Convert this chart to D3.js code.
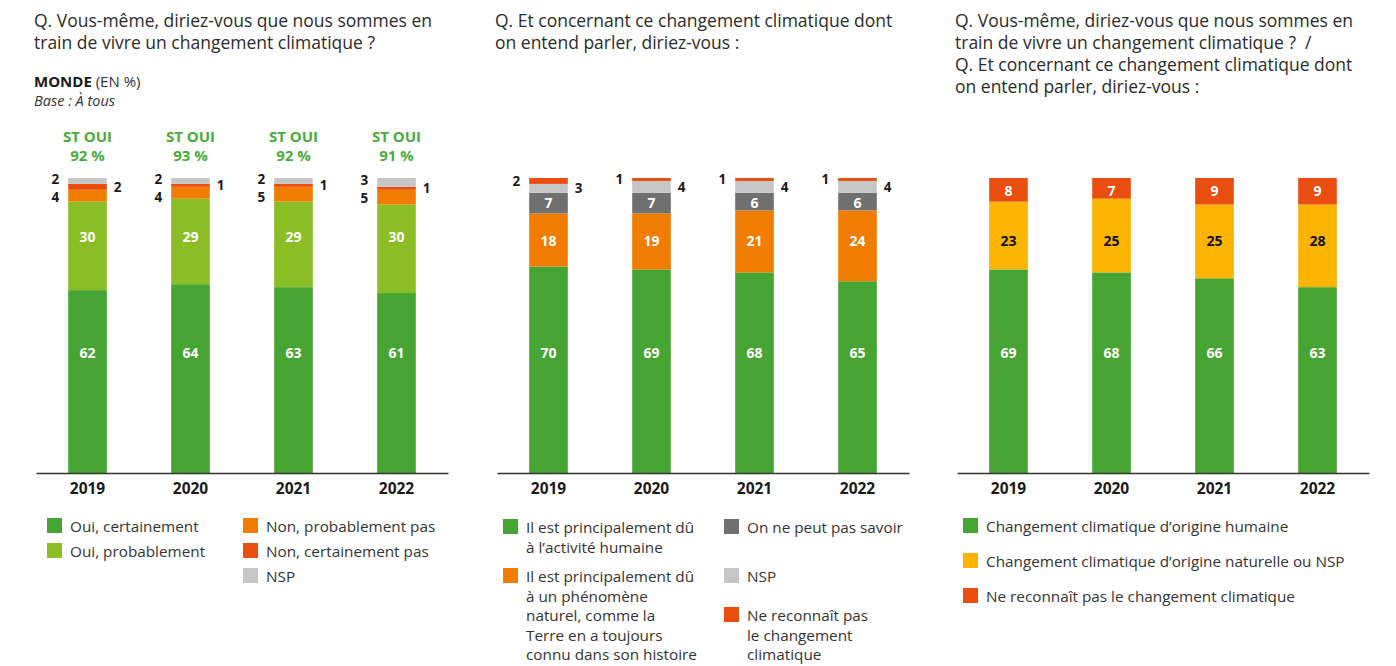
<!DOCTYPE html>
<html>
<head>
<meta charset="utf-8">
<script src="https://cdn.jsdelivr.net/npm/d3@7"></script>
<style>
  body { margin: 0; background: #fff; }
  svg { font-family: "Open Sans", sans-serif; }
</style>
</head>
<body>
<script>
// data
const years = ["2019", "2020", "2021", "2022"];

// panel 1 : vivre un changement climatique ?
const ouiCertainement = [62, 64, 63, 61];
const ouiProbablement = [30, 29, 29, 30];
const nonProbablement = [4, 4, 5, 5];
const nonCertainement = [2, 1, 1, 1];
const nspVivre = [2, 2, 2, 3];
const stOui = [92, 93, 92, 91];

// panel 2 : origine du changement
const activiteHumaine = [70, 69, 68, 65];
const phenomeneNaturel = [18, 19, 21, 24];
const peutPasSavoir = [7, 7, 6, 6];
const nspOrigine = [3, 4, 4, 4];
const neReconnaitPas = [2, 1, 1, 1];

// panel 3 : combinaison
const origineHumaine = [69, 68, 66, 63];
const origineNaturelleNsp = [23, 25, 25, 28];
const neReconnaitPasCombi = [8, 7, 9, 9];

const C = {
  green: "#46a532",
  light: "#8bbd25",
  orange: "#f07c00",
  red: "#e94e0f",
  grey: "#c6c6c6",
  dark: "#707070",
  yellow: "#fcb400"
};

const svgWidth = 1396, svgHeight = 666;
const plotTop = 178, plotBottom = 473, axisWidth = 412;

const svg = d3.select("body").append("svg")
  .attr("width", svgWidth)
  .attr("height", svgHeight);

const y = d3.scaleLinear().domain([0, 100]).range([plotBottom, plotTop]);

// series listed bottom -> top ; label: in (fixed level in %), left, right
const panels = [
  {
    x0: 36,
    title: ["Q. Vous-même, diriez-vous que nous sommes en", "train de vivre un changement climatique ?"],
    series: [
      { values: ouiCertainement, color: C.green, label: "in", at: 40.5, fill: "#fff" },
      { values: ouiProbablement, color: C.light, label: "in", at: 80, fill: "#fff" },
      { values: nonProbablement, color: C.orange, label: "left" },
      { values: nonCertainement, color: C.red, label: "right" },
      { values: nspVivre, color: C.grey, label: "left" }
    ],
    legend: [
      { text: ["Oui, certainement"], color: C.green, x: 47, y: 518 },
      { text: ["Oui, probablement"], color: C.light, x: 47, y: 543 },
      { text: ["Non, probablement pas"], color: C.orange, x: 243, y: 518 },
      { text: ["Non, certainement pas"], color: C.red, x: 243, y: 543 },
      { text: ["NSP"], color: C.grey, x: 243, y: 568 }
    ]
  },
  {
    x0: 497,
    title: ["Q. Et concernant ce changement climatique dont", "on entend parler, diriez-vous :"],
    series: [
      { values: activiteHumaine, color: C.green, label: "in", at: 40.5, fill: "#fff" },
      { values: phenomeneNaturel, color: C.orange, label: "in", at: 78.5, fill: "#fff" },
      { values: peutPasSavoir, color: C.dark, label: "in", at: 91.5, fill: "#fff" },
      { values: nspOrigine, color: C.grey, label: "right" },
      { values: neReconnaitPas, color: C.red, label: "left" }
    ],
    legend: [
      { text: ["Il est principalement dû", "à l’activité humaine"], color: C.green, x: 503, y: 519 },
      { text: ["Il est principalement dû", "à un phénomène", "naturel, comme la", "Terre en a toujours", "connu dans son histoire"], color: C.orange, x: 503, y: 568 },
      { text: ["On ne peut pas savoir"], color: C.dark, x: 724, y: 519 },
      { text: ["NSP"], color: C.grey, x: 724, y: 568 },
      { text: ["Ne reconnaît pas", "le changement", "climatique"], color: C.red, x: 724, y: 607 }
    ]
  },
  {
    x0: 957,
    title: ["Q. Vous-même, diriez-vous que nous sommes en", "train de vivre un changement climatique ? \u00a0/",
            "Q. Et concernant ce changement climatique dont", "on entend parler, diriez-vous :"],
    series: [
      { values: origineHumaine, color: C.green, label: "in", at: 40.5, fill: "#fff" },
      { values: origineNaturelleNsp, color: C.yellow, label: "in", at: 78.5, fill: "#111" },
      { values: neReconnaitPasCombi, color: C.red, label: "in", at: 95.5, fill: "#fff" }
    ],
    legend: [
      { text: ["Changement climatique d’origine humaine"], color: C.green, x: 963, y: 518 },
      { text: ["Changement climatique d’origine naturelle ou NSP"], color: C.yellow, x: 963, y: 553 },
      { text: ["Ne reconnaît pas le changement climatique"], color: C.red, x: 963, y: 588 }
    ]
  }
];

panels.forEach((p, pi) => {
  const g = svg.append("g");

  // title
  g.append("text")
    .attr("x", p.x0 - 2)
    .attr("y", 27)
    .attr("font-size", 17.5)
    .attr("fill", "#2b2b2b")
    .selectAll("tspan")
    .data(p.title)
    .join("tspan")
    .attr("x", p.x0 - 2)
    .attr("dy", (d, i) => i ? 22 : 0)
    .text(d => d);

  const x = d3.scaleBand()
    .domain(years)
    .range([p.x0, p.x0 + axisWidth])
    .paddingInner(0.625)
    .paddingOuter(0.3125);
  const bw = x.bandwidth();

  // stack
  const rows = years.map((yr, i) => {
    const r = { year: yr };
    p.series.forEach((s, k) => r["s" + k] = s.values[i]);
    return r;
  });
  const keys = p.series.map((s, k) => "s" + k);
  const stacked = d3.stack().keys(keys)(rows);

  stacked.forEach((layer, k) => {
    g.append("g").selectAll("rect")
      .data(layer)
      .join("rect")
      .attr("x", d => x(d.data.year))
      .attr("width", bw)
      .attr("y", d => y(d[1]))
      .attr("height", d => y(d[0]) - y(d[1]))
      .attr("fill", p.series[k].color);
  });

  // outside labels: segment middle, spread apart when two share a side
  const outside = [];
  ["left", "right"].forEach(side => {
    years.forEach((yr, i) => {
      const ks = d3.range(p.series.length).reverse().filter(k => p.series[k].label === side);
      let prev = -Infinity;
      ks.forEach((k, j) => {
        const d = stacked[k][i];
        let ly = y((d[0] + d[1]) / 2);
        if (ks.length > 1 && j === 0) ly -= 2;
        ly = Math.max(ly, prev + 18);
        prev = ly;
        outside.push({ side, year: yr, y: ly, v: p.series[k].values[i] });
      });
    });
  });

  g.append("g").selectAll("text")
    .data(outside)
    .join("text")
    .attr("x", d => d.side === "left" ? x(d.year) - 9 : x(d.year) + bw + 7)
    .attr("y", d => d.y)
    .attr("dy", "0.35em")
    .attr("text-anchor", d => d.side === "left" ? "end" : "start")
    .attr("font-size", 13.5)
    .attr("font-weight", 700)
    .attr("fill", "#1a1a1a")
    .text(d => d.v);

  // inside labels
  stacked.forEach((layer, k) => {
    const s = p.series[k];
    if (s.label !== "in") return;
    g.append("g").selectAll("text")
      .data(layer)
      .join("text")
      .attr("x", d => x(d.data.year) + bw / 2)
      .attr("y", y(s.at))
      .attr("dy", "0.35em")
      .attr("text-anchor", "middle")
      .attr("font-size", 14)
      .attr("font-weight", 700)
      .attr("fill", s.fill)
      .text((d, i) => s.values[i]);
  });

  // axis
  const axis = g.append("g")
    .attr("transform", `translate(0,${plotBottom})`)
    .call(d3.axisBottom(x).tickSize(0).tickSizeOuter(0).tickPadding(10));
  axis.select(".domain").attr("stroke", "#333").attr("stroke-width", 1.5);
  axis.selectAll("text")
    .attr("font-family", "Open Sans, sans-serif")
    .attr("font-size", 15.5)
    .attr("font-weight", 700)
    .attr("fill", "#1a1a1a");

  // legend
  const leg = g.append("g").selectAll("g")
    .data(p.legend)
    .join("g")
    .attr("transform", d => `translate(${d.x},${d.y})`);
  leg.append("rect")
    .attr("width", 15)
    .attr("height", 15)
    .attr("fill", d => d.color);
  leg.append("text")
    .attr("font-size", 15.3)
    .attr("fill", "#333")
    .selectAll("tspan")
    .data(d => d.text)
    .join("tspan")
    .attr("x", 23)
    .attr("y", (d, i) => 14 + i * 19.5)
    .text(d => d);

  if (pi === 0) {
    // header under title
    const h = g.append("text").attr("x", p.x0 - 2).attr("y", 87).attr("font-size", 15).attr("fill", "#333");
    h.append("tspan").attr("font-weight", 700).attr("fill", "#1a1a1a").text("MONDE");
    h.append("tspan").text(" (EN %)");
    g.append("text").attr("x", p.x0 - 2).attr("y", 106).attr("font-size", 14.5)
      .attr("font-style", "italic").attr("fill", "#333").text("Base : À tous");

    // ST OUI
    const st = g.append("g").selectAll("text")
      .data(years)
      .join("text")
      .attr("text-anchor", "middle")
      .attr("font-size", 15)
      .attr("font-weight", 700)
      .attr("fill", "#4aab3c");
    st.append("tspan").attr("x", d => x(d) + bw / 2).attr("y", 142).text("ST OUI");
    st.append("tspan").attr("x", d => x(d) + bw / 2).attr("y", 161).text((d, i) => stOui[i] + " %");
  }
});
</script>
</body>
</html>
